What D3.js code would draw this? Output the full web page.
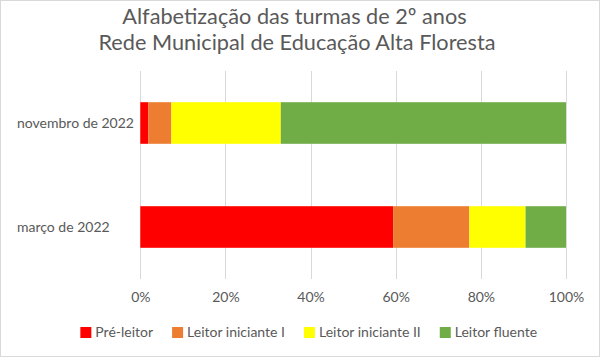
<!DOCTYPE html>
<html>
<head>
<meta charset="utf-8">
<script src="https://cdn.jsdelivr.net/npm/d3@7"></script>
<style>
  html, body { margin: 0; padding: 0; background: #fff; }
  svg { display: block; }
  text { font-family: Lato, "Open Sans", sans-serif; fill: #595959; }
</style>
</head>
<body>
<svg id="chart" width="605" height="360"></svg>
<script>
const titleLines = ["Alfabetização das turmas de 2º anos", "Rede Municipal de Educação Alta Floresta"];
const categories = ["novembro de 2022", "março de 2022"];
const seriesNames = ["Pré-leitor", "Leitor iniciante I", "Leitor iniciante II", "Leitor fluente"];
const seriesColors = ["#FF0000", "#ED7D31", "#FFFF00", "#70AD47"];
const preLeitor = [1.9, 59.4];
const iniciante1 = [5.4, 17.9];
const iniciante2 = [25.7, 13.2];
const fluente = [67.0, 9.5];
const tickValues = [0, 0.2, 0.4, 0.6, 0.8, 1.0];

const seriesValues = [preLeitor, iniciante1, iniciante2, fluente];
const rows = categories.map((c, i) => {
  const r = { category: c };
  seriesNames.forEach((s, j) => r[s] = seriesValues[j][i]);
  return r;
});
const stacked = d3.stack().keys(seriesNames).offset(d3.stackOffsetExpand)(rows);

const svg = d3.select("#chart");
const W = 605, H = 360;

// border
svg.append("rect").attr("x", 0.5).attr("y", 0.5).attr("width", W - 6).attr("height", H - 4)
  .attr("fill", "#fff").attr("stroke", "#d9d9d9").attr("stroke-width", 1);

// title
const titleX = [294.5, 297];
const titleY = [24, 50];
svg.selectAll("text.title").data(titleLines).enter().append("text")
  .attr("class", "title")
  .attr("x", (d, i) => titleX[i]).attr("y", (d, i) => titleY[i])
  .attr("text-anchor", "middle")
  .style("font-size", "21.7px")
  .text(d => d);

const plot = { left: 140.3, right: 566, top: 71, bottom: 279 };
const x = d3.scaleLinear().domain([0, 1]).range([plot.left, plot.right]);
const y = d3.scaleBand().domain(categories).range([plot.top, plot.bottom]).padding(0);
const barH = y.bandwidth() * 0.4;

// gridlines
svg.append("g").selectAll("line").data(tickValues).enter().append("line")
  .attr("x1", d => Math.round(x(d)) + 0.5).attr("x2", d => Math.round(x(d)) + 0.5)
  .attr("y1", plot.top).attr("y2", plot.bottom)
  .attr("stroke", "#d9d9d9").attr("stroke-width", 1);

// bars
svg.append("g").selectAll("g").data(stacked).enter().append("g")
  .attr("fill", (d, i) => seriesColors[i])
  .selectAll("rect").data(d => d).enter().append("rect")
  .attr("x", d => x(d[0]))
  .attr("width", d => x(d[1]) - x(d[0]))
  .attr("y", d => y(d.data.category) + (y.bandwidth() - barH) / 2)
  .attr("height", barH);

// x axis
const xAxis = d3.axisBottom(x).tickValues(tickValues).tickFormat(d3.format(".0%")).tickSize(0).tickPadding(0);
const gx = svg.append("g").attr("transform", `translate(0, ${plot.bottom + 13})`).call(xAxis);
gx.select(".domain").remove();
gx.selectAll("text").style("font-size", "14px").style("font-family", "Lato, sans-serif").attr("fill", "#595959").attr("dy", "0.71em");

// y axis labels (left aligned)
svg.append("g").selectAll("text").data(categories).enter().append("text")
  .attr("x", 17)
  .attr("y", d => y(d) + y.bandwidth() / 2)
  .attr("dy", "0.35em")
  .style("font-size", "14px")
  .text(d => d);

// legend
const legend = svg.append("g");
const items = legend.selectAll("g").data(seriesNames).enter().append("g");
items.append("rect").attr("width", 11).attr("height", 11).attr("y", 327)
  .attr("fill", (d, i) => seriesColors[i]);
items.append("text").attr("x", 15).attr("y", 332.5).attr("dy", "0.35em")
  .style("font-size", "14px").text(d => d);
const widths = [];
items.each(function () { widths.push(15 + d3.select(this).select("text").node().getComputedTextLength()); });
const gap = 19;
const total = d3.sum(widths) + gap * (widths.length - 1);
let cx = 308.7 - total / 2;
items.each(function (d, i) {
  d3.select(this).attr("transform", `translate(${cx},0)`);
  cx += widths[i] + gap;
});
</script>
</body>
</html>
